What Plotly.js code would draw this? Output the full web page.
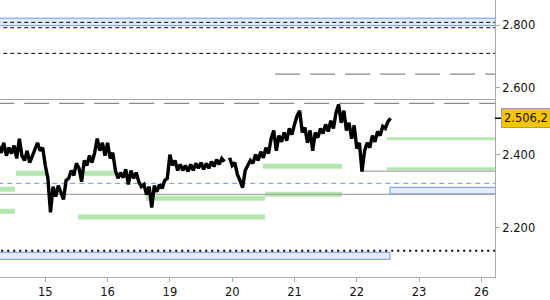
<!DOCTYPE html>
<html>
<head>
<meta charset="utf-8">
<script src="https://cdn.plot.ly/plotly-3.0.1.min.js"></script>
<style>html,body{margin:0;padding:0;background:#fff;}#chart{width:550px;height:300px;}</style>
</head>
<body>
<div id="chart"></div>
<script>
// ---- data ----
const dayLabels = ['15','16','19','20','21','22','23','26'];
const dayIndex = [0,1,2,3,4,5,6,7];
const yTicks = [2200,2400,2600,2800];
const yTickText = ['2.200','2.400','2.600','2.800'];

// intraday price, one value per 1/24 trading day starting at priceStart (trading-day units)
const priceStart = -0.75;
const priceStep = 1/24;
const price = [2426,2405,2434,2397,2420,2403,2426,2389,2446,2397,
2383,2411,2377,2397,2411,2434,2411,2420,2369,2333,
2240,2310,2283,2313,2294,2275,2327,2333,2355,2341,
2375,2361,2324,2383,2369,2397,2377,2405,2446,2411,
2434,2397,2434,2389,2405,2355,2333,2349,2335,2358,
2316,2355,2333,2349,2324,2310,2316,2288,2310,2253,
2313,2296,2316,2305,2327,2333,2400,2369,2383,2355,
2372,2355,2369,2352,2372,2355,2375,2361,2377,2358,
2375,2361,2380,2366,2386,2372,2389,2380,null,2391,
2369,2377,2344,2327,2307,2355,2369,2383,2375,2400,
2383,2408,2391,2420,2403,2446,2470,2411,2455,2437,
2464,2440,2476,2458,2488,2514,2529,2464,2479,2434,
2470,2411,2464,2449,2476,2461,2488,2467,2499,2476,
2523,2548,2493,2529,2470,2493,2446,2485,2417,2434,
2352,2411,2434,2420,2455,2437,2467,2455,2482,2476,
2496,2506.2];
const lastPrice = 2506.2;
const lastPriceText = '2.506,2';

// level lines (value, start time, end time in trading days)
const T_START = -0.9, T_END = 7.4;
const blackDashLevel = [2810, 2792, 2708];
const greyDashLevel = [2642, 2551];
const greyDashFrom = [3.69, T_START];
const greySolidLevel = [2563, 2289, 2353];
const greySolidFrom = [T_START, T_START, 5.07];
const blueDashLevel = [2319];
const dottedLevel = [2140];
const zoneLow = [2799, 2290, 2118];
const zoneHigh = [2824, 2308, 2136];
const zoneFrom = [T_START, 5.533, T_START];
const zoneTo = [T_END, T_END, 5.533];
const greenLevel = [2347, 2303, 2243, 2347, 2278, 2228, 2367, 2289, 2446, 2360];
const greenFrom = [-0.47, T_START, T_START, 0.557, 1.616, 0.525, 3.495, 3.527, 5.484, 5.484];
const greenTo = [0.006, -0.486, -0.486, 1.119, 3.527, 3.527, 4.762, 4.762, T_END, T_END];

// ---- traces ----
const traces = [];
function hline(v, x0, x1, line) {
  traces.push({type:'scatter', mode:'lines', x:[x0,x1], y:[v,v], line:line, hoverinfo:'skip'});
}
for (let k = 0; k < zoneLow.length; k++) {
  traces.push({type:'scatter', mode:'lines',
    x:[zoneFrom[k], zoneTo[k], zoneTo[k], zoneFrom[k], zoneFrom[k]],
    y:[zoneLow[k], zoneLow[k], zoneHigh[k], zoneHigh[k], zoneLow[k]],
    fill:'toself', fillcolor:'#e4ebfc', line:{color:'#6a96ee', width:1}, hoverinfo:'skip'});
}
for (let k = 0; k < greenLevel.length; k++) {
  hline(greenLevel[k], greenFrom[k], greenTo[k], {color:'#b4e7b0', width: greenFrom[k] > 5 ? 3 : 5});
}
greySolidLevel.forEach((v,k)=>hline(v, greySolidFrom[k], T_END, {color:'#a6a6a6', width:1.2}));
greyDashLevel.forEach((v,k)=>hline(v, greyDashFrom[k], T_END, {color:'#8a8a8a', width:1.2, dash:'25px,10px'}));
blackDashLevel.forEach(v=>hline(v, T_START, T_END, {color:'#000', width:1, dash:'4px,3px'}));
blueDashLevel.forEach(v=>hline(v, T_START, T_END, {color:'#6a96ee', width:1, dash:'5px,4px'}));
dottedLevel.forEach(v=>hline(v, T_START, T_END, {color:'#000', width:2, dash:'2px,4px'}));

traces.push({type:'scatter', mode:'lines',
  x: price.map((_, i) => priceStart + i*priceStep), y: price,
  line:{color:'#000', width:3.4}, connectgaps:false, hoverinfo:'skip'});

const font = {family:'DejaVu Sans, Verdana, sans-serif', size:11.5, color:'#111'};
const layout = {
  width:550, height:300,
  margin:{l:0, r:55, t:0, b:23},
  paper_bgcolor:'#fff', plot_bgcolor:'#fff',
  showlegend:false,
  font: font,
  xaxis:{range:[-0.7271, 7.2183], tickvals:dayIndex, ticktext:dayLabels,
    showgrid:false, zeroline:false, showline:true, linecolor:'#aaa', linewidth:1,
    ticks:'outside', ticklen:4, tickcolor:'#aaa', tickfont:font},
  yaxis:{type:'log', side:'right', range:[3.316804, 3.460276],
    tickvals:yTicks, ticktext:yTickText,
    showgrid:false, zeroline:false, showline:true, linecolor:'#aaa', linewidth:1,
    ticks:'outside', ticklen:4, tickcolor:'#aaa', tickfont:font},
  annotations:[{xref:'paper', x:1, xanchor:'left', xshift:6,
    yref:'y', y:Math.log10(lastPrice), yanchor:'middle',
    text:lastPriceText, showarrow:false, font:font,
    bgcolor:'#f6c400', bordercolor:'#9a9a9a', borderwidth:1, borderpad:2}],
  shapes:[{type:'line', xref:'paper', x0:1, x1:1.012, yref:'y', y0:lastPrice, y1:lastPrice,
    line:{color:'#000', width:1.5}}]
};
Plotly.newPlot('chart', traces, layout, {staticPlot:true, displayModeBar:false});
</script>
</body>
</html>
